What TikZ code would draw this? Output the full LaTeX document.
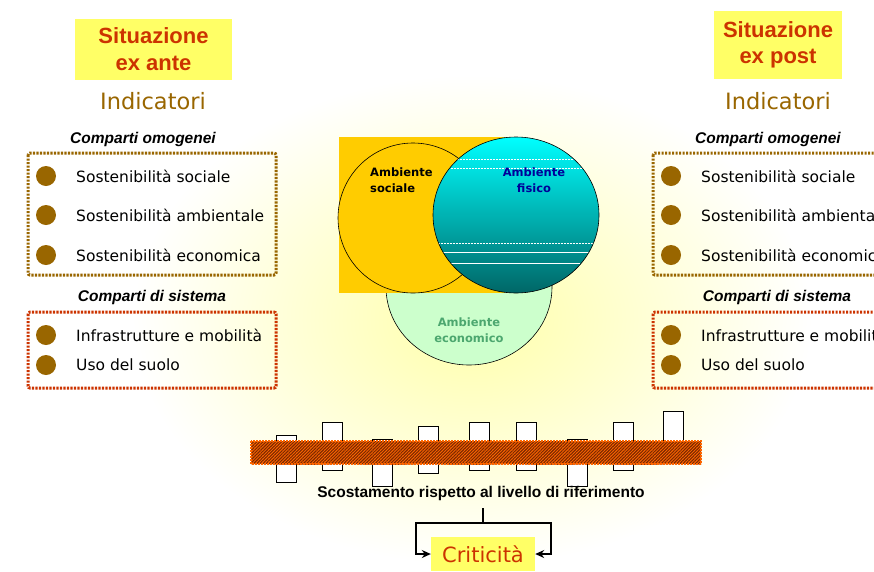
\documentclass[tikz,border=0pt]{standalone}
\usepackage{fontspec}
\setmainfont{DejaVu Sans}
\newfontfamily\arialfont{Liberation Sans}
\usetikzlibrary{calc, patterns, patterns.meta, arrows.meta}

\definecolor{titlered}{HTML}{CC3300}
\definecolor{brownish}{HTML}{996600}
\definecolor{paleyellow}{HTML}{FFFF66}
\definecolor{glow}{HTML}{FFFFAA}
\definecolor{venngold}{HTML}{FFCC00}
\definecolor{venngreen}{HTML}{CCFFCC}
\definecolor{ecotext}{HTML}{4CA76F}
\definecolor{fisblue}{HTML}{000099}
\definecolor{fistop}{HTML}{00FFFF}
\definecolor{fisbottom}{HTML}{006666}
\definecolor{barorange}{HTML}{FF6600}
\definecolor{barhatch}{HTML}{7A2800}

\tikzset{
  titlebox/.style={fill=paleyellow, text=titlered, align=center, inner sep=0pt,
    font=\arialfont\bfseries\fontsize{22}{27}\selectfont},
  indic/.style={text=brownish, inner sep=0pt, font=\fontsize{22.5}{26}\selectfont},
  comparto/.style={inner sep=0pt, font=\arialfont\bfseries\itshape\fontsize{15.5}{18}\selectfont},
  voce/.style={anchor=west, inner sep=0pt, font=\fontsize{15.5}{18}\selectfont},
  bullet/.style={fill=brownish},
  omobox/.style={draw=brownish, line width=3pt, dash pattern=on 2.2pt off 1.3pt, rounded corners=2pt},
  sisbox/.style={omobox, draw=titlered},
  venntext/.style={inner sep=0pt, font=\bfseries\fontsize{11.5}{16}\selectfont},
  colonna/.style={draw=black, fill=white, line width=0.8pt},
  conn/.style={line width=1.3pt, -{Stealth[length=9pt,width=8pt]}},
}

\begin{document}
\begin{tikzpicture}[x=1pt, y=-1pt]
	\useasboundingbox (0,0) rectangle (874,571);
	\fill[white] (0,0) rectangle (874,571);
	\shade[inner color=glow, outer color=white] (472,320) ellipse (340 and 245);
	
	% titoli
	\node[titlebox, minimum width=157pt, minimum height=61pt] (ante) at (153.5,49.5) {Situazione\\ex ante};
	\node[titlebox, minimum width=128pt, minimum height=68pt, font=\arialfont\bfseries\fontsize{22}{26}\selectfont] (post) at (778,45) {Situazione\\ex post};
	
	% colonne degli indicatori
	\foreach \s/\dx in {L/0, R/625} {
		\node[indic] (ind\s) at ({153+\dx},101) {Indicatori};
		\node[comparto] (omo\s) at ({143+\dx},139) {Comparti omogenei};
		\node[comparto] (sis\s) at ({152+\dx},297) {Comparti di sistema};
		\draw[omobox] ({28+\dx},153) rectangle ({276+\dx},275);
		\draw[sisbox] ({28+\dx},312) rectangle ({276+\dx},388);
		\foreach \y in {176,215,255,335,365}
			\fill[bullet] ({46+\dx},\y) circle (10);
		\node[voce] (soc\s) at ({76+\dx},176) {Sostenibilità sociale};
		\node[voce] (amb\s) at ({76+\dx},215) {Sostenibilità ambientale};
		\node[voce] (eco\s) at ({76+\dx},255) {Sostenibilità economica};
		\node[voce] (inf\s) at ({76+\dx},335) {Infrastrutture e mobilità};
		\node[voce] (uso\s) at ({76+\dx},365) {Uso del suolo};
	}
	
	% ambienti
	\filldraw[fill=venngreen, draw=black, line width=0.6pt] (469,287) ellipse (83 and 78);
	\fill[venngold] (339,137) rectangle (505,293);
	\filldraw[fill=venngold, draw=black, line width=0.6pt] (413,218) circle (75);
	\shade[top color=fistop, bottom color=fisbottom] (516,215) ellipse (83 and 78);
	\begin{scope}
		\clip (516,215) ellipse (83 and 78);
		\draw[white, line width=0.5pt, densely dotted] (440,159) -- (600,159);
		\draw[white, line width=0.5pt, densely dotted] (440,168) -- (600,168);
		\draw[white, line width=0.5pt, densely dotted] (430,243) -- (600,243);
		\draw[white, line width=0.7pt] (430,252) -- (600,252);
		\draw[white, line width=0.7pt] (430,263) -- (580,263);
	\end{scope}
	\draw[black, line width=0.6pt] (516,215) ellipse (83 and 78);
	\node[venntext, anchor=west, align=left] (sociale) at (370,180) {Ambiente\\sociale};
	\node[venntext, text=fisblue, align=center] (fisico) at (534,180) {Ambiente\\fisico};
	\node[venntext, text=ecotext, align=center] (economico) at (469,330) {Ambiente\\economico};
	
	% scostamenti
	\foreach \x/\t/\b in {276/435/482, 322/422/470, 372/439/486, 418/426/473, 469/422/470,
			516/422/470, 567/439/486, 613/422/470, 663/411/455}
		\draw[colonna] (\x,\t) rectangle ({\x+20},\b);
	\fill[barorange] (251,441) rectangle (701,464);
	\fill[pattern={Lines[angle=45, distance=2.2pt, line width=1.1pt]}, pattern color=barhatch] (251,441) rectangle (701,464);
	\draw[barorange, line width=2pt, dash pattern=on 2pt off 1pt] (251,441) rectangle (701,464);
	
	\node[inner sep=0pt, font=\arialfont\bfseries\fontsize{15.5}{18}\selectfont] (scost) at (481,493) {Scostamento rispetto al livello di riferimento};
	\node[fill=paleyellow, text=titlered, font=\fontsize{21}{24}\selectfont, minimum width=104pt, minimum height=34pt] (crit) at (483,554) {Criticità};
	
	\coordinate (stem) at (483,508);
	\coordinate (fork) at (483,523);
	\coordinate (forkL) at (416,523);
	\coordinate (forkR) at (551,523);
	\draw[line width=1.3pt] (stem) -- (fork);
	\draw[conn] (fork) -- (forkL) |- (crit.west);
	\draw[conn] (fork) -- (forkR) |- (crit.east);
\end{tikzpicture}
\end{document}
